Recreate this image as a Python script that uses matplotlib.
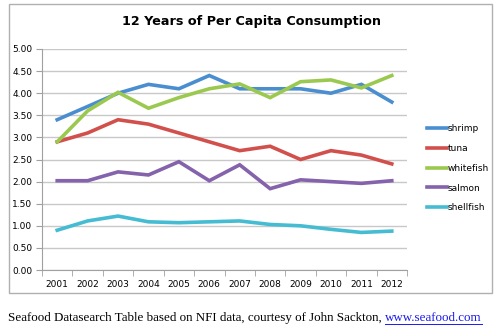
import numpy as np
import matplotlib.pyplot as plt
from matplotlib.patches import Rectangle

# Данные (фунтов на душу населения)
years = ['2001', '2002', '2003', '2004', '2005', '2006',
         '2007', '2008', '2009', '2010', '2011', '2012']
shrimp = [3.40, 3.70, 4.00, 4.20, 4.10, 4.40, 4.10, 4.10, 4.10, 4.00, 4.20, 3.80]
tuna = [2.90, 3.10, 3.40, 3.30, 3.10, 2.90, 2.70, 2.80, 2.50, 2.70, 2.60, 2.40]
whitefish = [2.90, 3.60, 4.02, 3.66, 3.90, 4.10, 4.21, 3.90, 4.26, 4.30, 4.12, 4.40]
salmon = [2.02, 2.02, 2.22, 2.15, 2.45, 2.02, 2.38, 1.84, 2.04, 2.00, 1.96, 2.02]
shellfish = [0.90, 1.11, 1.22, 1.09, 1.07, 1.09, 1.11, 1.03, 1.00, 0.92, 0.85, 0.88]

series = [('shrimp', shrimp, '#4a8ed0'),
          ('tuna', tuna, '#d2504c'),
          ('whitefish', whitefish, '#9bc94f'),
          ('salmon', salmon, '#8462ac'),
          ('shellfish', shellfish, '#45bcd2')]

fig = plt.figure(figsize=(5, 3.3), dpi=100)

# Рамка диаграммы
fig.patches.append(Rectangle((9 / 500, 1 - 293 / 330), 483 / 500, 289 / 330,
                             transform=fig.transFigure, fill=False,
                             edgecolor='#b0b0b0', linewidth=1.0))

ax = fig.add_axes([42 / 500, 1 - 270 / 330, 365 / 500, 221 / 330])
x = np.arange(len(years))
for name, vals, col in series:
    ax.plot(x, vals, '-', color=col, linewidth=2.6, label=name,
            solid_joinstyle='miter')

ax.set_xlim(-0.5, len(years) - 0.5)
ax.set_ylim(0, 5)
ax.set_yticks(np.arange(0, 5.01, 0.5))
ax.set_yticklabels([f'{v:.2f}' for v in np.arange(0, 5.01, 0.5)])
ax.set_xticks(x)
ax.set_xticklabels(years)
ax.set_xticks(np.arange(-0.5, len(years), 1), minor=True)
ax.tick_params(axis='x', which='major', length=0, labelsize=6.5, pad=7)
ax.tick_params(axis='x', which='minor', length=4, color='#a0a0a0')
ax.tick_params(axis='y', length=4, color='#a0a0a0', labelsize=6.5, pad=3)
ax.grid(axis='y', color='#c8c8c8', linewidth=1.0)
ax.set_axisbelow(True)
for s in ['top', 'right']:
    ax.spines[s].set_visible(False)
for s in ['left', 'bottom']:
    ax.spines[s].set_color('#a0a0a0')

ax.legend(loc='upper left', bbox_to_anchor=(419 / 500, 1 - 116 / 330),
          bbox_transform=fig.transFigure, frameon=False, fontsize=6.5,
          handlelength=2.2, handletextpad=0.1, labelspacing=1.2)

fig.text(0.502, 1 - 22 / 330, '12 Years of Per Capita Consumption',
         ha='center', va='center', fontsize=9.2, fontweight='bold')

# Подпись под диаграммой
cap_y = 1 - 318 / 330
t1 = fig.text(8 / 500, cap_y,
              'Seafood Datasearch Table based on NFI data, courtesy of John Sackton, ',
              family='Liberation Serif', fontsize=9.35, va='center')
fig.canvas.draw()
bb = t1.get_window_extent()
t2 = fig.text(bb.x1 / 500, cap_y, 'www.seafood.com', family='Liberation Serif',
              fontsize=9.35, va='center', color='#1a1aee')
fig.canvas.draw()
bb2 = t2.get_window_extent()
fig.add_artist(plt.Line2D([bb2.x0 / 500, bb2.x1 / 500],
                          [(bb2.y0 + 0.5) / 330] * 2, color='#1a1aee',
                          linewidth=0.7, transform=fig.transFigure))

fig.savefig('out.png', dpi=100)
